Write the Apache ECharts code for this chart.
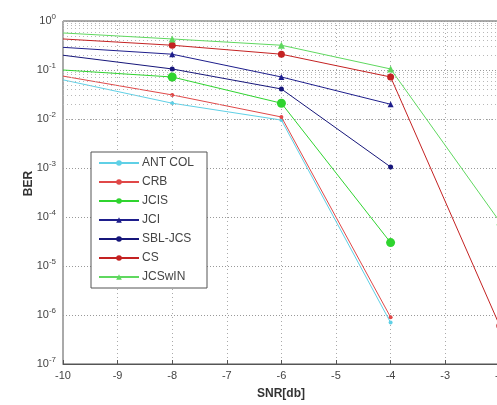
<!DOCTYPE html>
<html>
<head>
<meta charset="utf-8">
<script src="https://cdn.jsdelivr.net/npm/echarts@6/dist/echarts.min.js"></script>
<style>html,body{margin:0;padding:0;background:#fff;}#c{width:497px;height:405px;}</style>
</head>
<body>
<div id="c"></div>
<script>
const snr = [-10, -8, -6, -4, -2];
const seriesNames = ['ANT COL', 'CRB', 'JCIS', 'JCI', 'SBL-JCS', 'CS', 'JCSwIN'];
const antCol = [0.063, 0.021, 0.0095, 7e-7];
const crb    = [0.075, 0.031, 0.011, 9e-7];
const jcis   = [0.10, 0.072, 0.021, 3e-5];
const jci    = [0.29, 0.21, 0.072, 0.020];
const sblJcs = [0.20, 0.105, 0.041, 1.05e-3];
const cs     = [0.43, 0.32, 0.21, 0.072, 6e-7];
const jcswin = [0.57, 0.43, 0.32, 0.105, 8e-5];
const xTicks = [-10, -9, -8, -7, -6, -5, -4, -3, -2, -1, 0];
const yDecades = [-7, -6, -5, -4, -3, -2, -1, 0];

const values = [antCol, crb, jcis, jci, sblJcs, cs, jcswin];
const colors = ['#5fd0e6', '#e04848', '#2fd42f', '#1e1e8c', '#16167a', '#c42222', '#5fd85f'];
const symbols = ['circle', 'circle', 'circle', 'triangle', 'circle', 'circle', 'triangle'];
const sizes = [4, 4, 9, 6, 5, 7, 7];

function build(vals) {
  return vals.map((v, i) => {
    const item = { value: [snr[i], v] };
    if (i === 0) item.symbol = 'none';
    return item;
  });
}

const minorVals = [];
for (let d = yDecades[0]; d < yDecades[yDecades.length - 1]; d++) {
  for (let k = 2; k <= 9; k++) minorVals.push(k * Math.pow(10, d));
}

const series = seriesNames.map((name, s) => ({
  name: name,
  type: 'line',
  data: build(values[s]),
  symbol: symbols[s],
  symbolSize: sizes[s],
  showAllSymbol: true,
  lineStyle: { width: 1, color: colors[s] },
  itemStyle: { color: colors[s] },
  animation: false,
  z: 3 + s
}));

series.unshift({
  name: 'minor',
  type: 'line',
  data: [[-10, 1e-7]],
  symbol: 'none',
  lineStyle: { opacity: 0 },
  silent: true,
  animation: false,
  markLine: {
    silent: true,
    symbol: 'none',
    animation: false,
    label: { show: false },
    lineStyle: { type: [1, 3], color: '#b8b8b8', width: 1 },
    data: minorVals.map(v => ({ yAxis: v }))
  }
});

const chart = echarts.init(document.getElementById('c'), null, { renderer: 'canvas' });
chart.setOption({
  backgroundColor: '#fff',
  animation: false,
  grid: { left: 63, top: 21, width: 546, height: 343, outerBoundsMode: 'none', containLabel: false,
    show: true, borderColor: '#555', borderWidth: 1, backgroundColor: 'transparent' },
  legend: {
    data: seriesNames,
    orient: 'vertical',
    left: 91, top: 152,
    itemWidth: 40, itemHeight: 7, itemGap: 7,
    padding: [5, 13, 5, 7],
    backgroundColor: '#fff',
    borderColor: '#555', borderWidth: 1, borderRadius: 0,
    textStyle: { fontFamily: 'Liberation Sans, Arial, sans-serif', fontSize: 12, color: '#444', padding: [0, 0, 0, -2] }
  },
  xAxis: {
    type: 'value', min: -10, max: 0, interval: 1,
    name: 'SNR[db]', nameLocation: 'middle', nameGap: 24,
    nameTextStyle: { fontFamily: 'Liberation Sans, Arial, sans-serif', fontSize: 12, fontWeight: 'bold', color: '#333', padding: [0, 110, 0, 0] },
    axisLine: { show: true, lineStyle: { color: '#555' } },
    axisTick: { show: true, inside: true, length: 4, lineStyle: { color: '#555' } },
    axisLabel: { color: '#444', fontSize: 11, fontFamily: 'Liberation Sans, Arial, sans-serif', margin: 6,
      formatter: v => xTicks.includes(v) ? String(v) : '' },
    splitLine: { show: true, lineStyle: { type: [1, 3], color: '#aaa' } }
  },
  yAxis: {
    type: 'log', logBase: 10, min: 1e-7, max: 1, splitNumber: 7,
    name: 'BER', nameLocation: 'middle', nameGap: 28, nameRotate: 90, nameMoveOverlap: false,
    nameTextStyle: { fontFamily: 'Liberation Sans, Arial, sans-serif', fontSize: 12, fontWeight: 'bold', color: '#333', padding: [0, 0, 0, 18] },
    axisLine: { show: true, lineStyle: { color: '#555' } },
    axisTick: { show: true, inside: true, length: 4, lineStyle: { color: '#555' } },
    axisLabel: {
      margin: 7,
      formatter: v => {
        const e = Math.round(Math.log10(v));
        return '{b|10}{e|' + e + '}';
      },
      rich: {
        b: { fontSize: 11, color: '#444', fontFamily: 'Liberation Sans, Arial, sans-serif' },
        e: { fontSize: 8, color: '#444', fontFamily: 'Liberation Sans, Arial, sans-serif', padding: [0, 0, 8, 0] }
      }
    },
    splitLine: { show: true, lineStyle: { type: [1, 2], color: '#999' } }
  },
  series: series
});
</script>
</body>
</html>
